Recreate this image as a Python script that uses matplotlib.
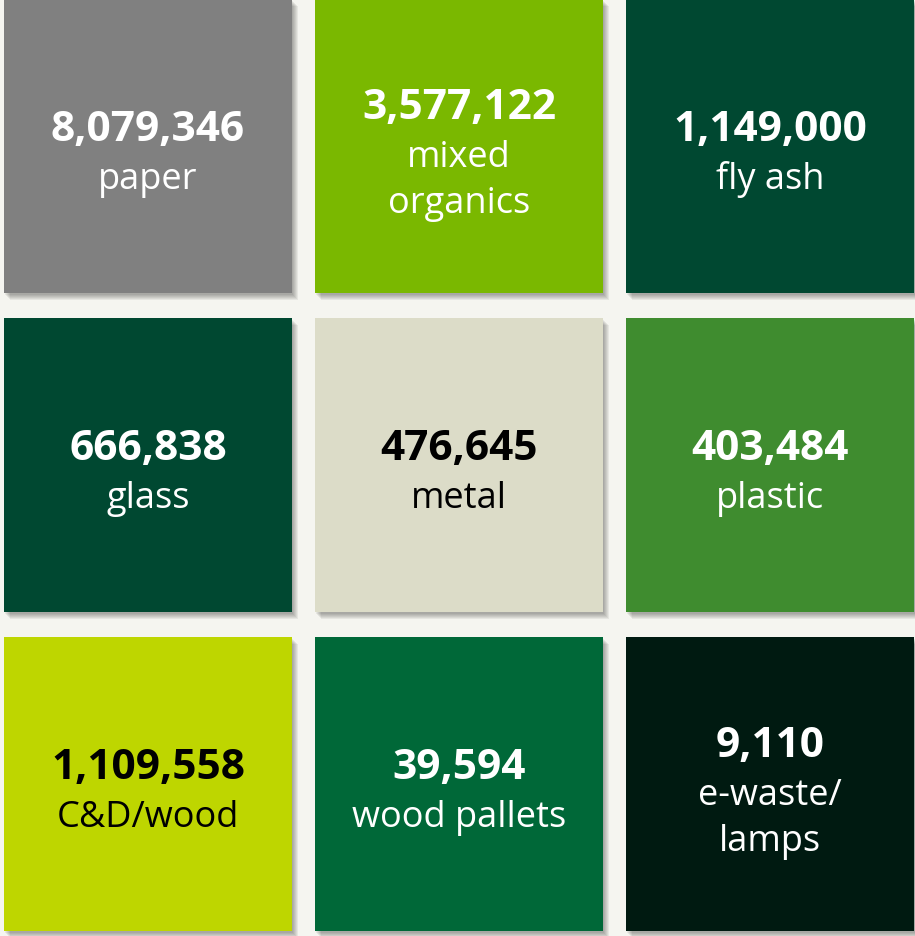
import matplotlib.pyplot as plt
from matplotlib.patches import Rectangle

# tonnage per material, laid out row by row
values = ['8,079,346', '3,577,122', '1,149,000',
          '666,838', '476,645', '403,484',
          '1,109,558', '39,594', '9,110']
labels = ['paper', 'mixed\norganics', 'fly ash',
          'glass', 'metal', 'plastic',
          'C&D/wood', 'wood pallets', 'e-waste/\nlamps']
tile_colors = ['#808080', '#7ab800', '#004831',
               '#004831', '#dcdcc8', '#3f8c2f',
               '#bed600', '#006838', '#001a11']
text_colors = ['white', 'white', 'white',
               'white', 'black', 'white',
               'black', 'white', 'white']

W, H = 915, 937
fig = plt.figure(figsize=(W / 100, H / 100), dpi=100)
fig.patch.set_facecolor('#f5f5f0')
ax = fig.add_axes([0, 0, 1, 1])
ax.set_xlim(0, W)
ax.set_ylim(H, 0)
ax.axis('off')

col_left = [4, 315, 626]
row_top = [0, 319, 638]
tw, th = 288, 294

for i in range(9):
    x = col_left[i % 3]
    y = row_top[i // 3]
    # soft drop shadow
    for k in range(6):
        ax.add_patch(Rectangle((x + 1 + k, y + 2 + k), tw, th,
                               facecolor='black', alpha=0.06, lw=0))
    ax.add_patch(Rectangle((x, y), tw, th, facecolor=tile_colors[i], lw=0))

    cx = x + tw / 2
    cy = y + th / 2
    lines = labels[i].split('\n')
    n = len(lines)
    ny = cy - 16 - 22 * (n - 1)
    ax.text(cx, ny, values[i], ha='center', va='center', color=text_colors[i],
            fontsize=30.5, fontweight='bold', family='Open Sans')
    for j, line in enumerate(lines):
        ax.text(cx, ny + 49 + 46 * j, line, ha='center', va='center',
                color=text_colors[i], fontsize=26, family='Open Sans')

fig.savefig('out.png', dpi=100, facecolor=fig.get_facecolor())
